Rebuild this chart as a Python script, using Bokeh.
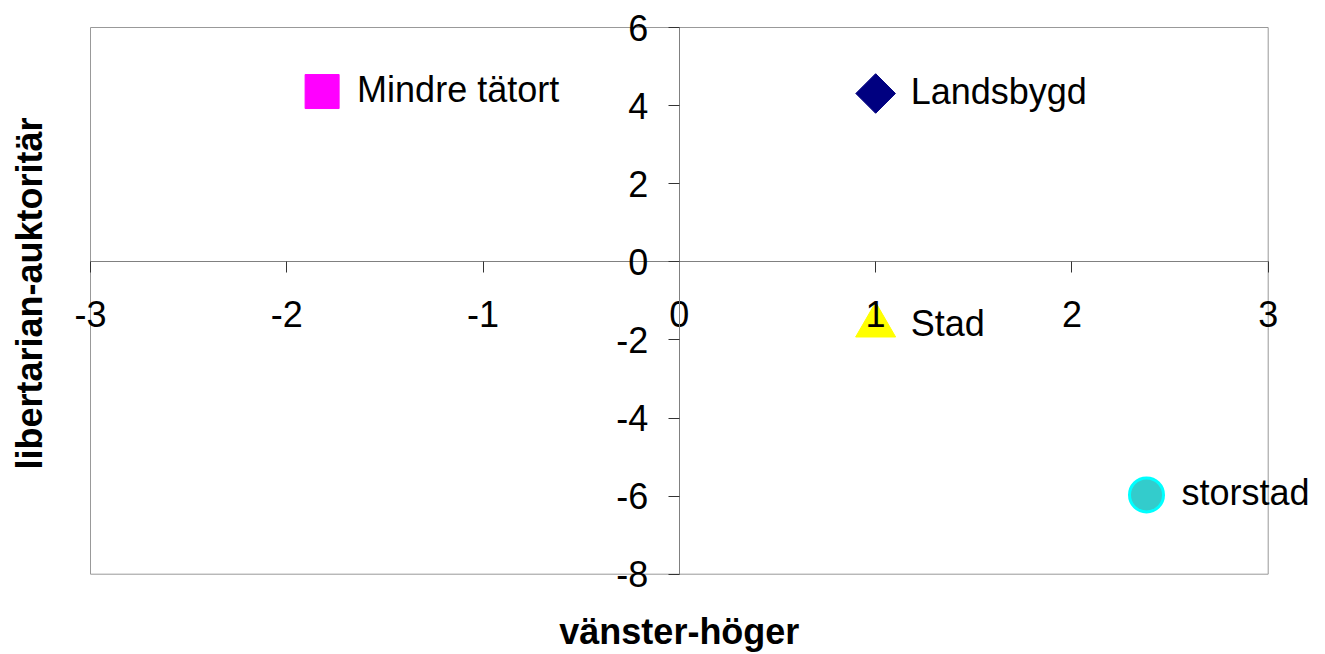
from bokeh.plotting import figure
from bokeh.models import FixedTicker, Label, BoxAnnotation, Range1d
from bokeh.core.properties import value
from bokeh.embed import file_html
from bokeh.resources import INLINE

# data
names = ["Mindre tätort", "Landsbygd", "Stad", "storstad"]
x_vals = [-1.82, 1.0, 1.0, 2.38]
y_vals = [4.36, 4.31, -1.63, -5.97]
x_ticks = [-3, -2, -1, 0, 1, 2, 3]
y_ticks = [-8, -6, -4, -2, 0, 2, 4, 6]
x_title = "vänster-höger"
y_title = "libertarian-auktoritär"

# styles per series
markers = ["square", "square", "triangle", "circle"]
angles = [0, 0.7853981634, 0, 0]
sizes = [34, 28, 40, 34]
fills = ["#FF00FF", "#000080", "#FFFF00", "#33CCCC"]
lines = ["#FF00FF", "#000080", "#FFFF00", "#00FFFF"]
lws = [1, 1, 1, 3]

FONT = "Liberation Sans"
W, H = 1325, 654

# plot-area limits and the surrounding room (frame fills the whole canvas)
xmin, xmax = x_ticks[0], x_ticks[-1]
ymin, ymax = y_ticks[0], y_ticks[-1]
pl, pr, pt, pb = 90.0, 1267.7, 27.0, 573.7
sx = (pr - pl) / (xmax - xmin)
sy = (pb - pt) / (ymax - ymin)

p = figure(width=W, height=H, output_backend="svg", toolbar_location=None,
           x_range=Range1d(xmin - pl / sx, xmax + (W - pr) / sx),
           y_range=Range1d(ymin - (H - pb) / sy, ymax + pt / sy),
           min_border=0)
p.grid.visible = False
p.outline_line_color = None
p.background_fill_color = "white"
p.border_fill_color = "white"

p.add_layout(BoxAnnotation(left=xmin, right=xmax, bottom=ymin, top=ymax,
                           fill_alpha=0, line_color="#999999", line_alpha=1.0,
                           line_width=1, level="underlay"))

for ax, ticks in ((p.xaxis, x_ticks), (p.yaxis, y_ticks)):
    ax.fixed_location = 0
    ax.bounds = (ticks[0], ticks[-1])
    ax.ticker = FixedTicker(ticks=ticks)
    ax.major_label_overrides = {t: str(t) for t in ticks}
    ax.minor_tick_line_color = None
    ax.axis_line_color = "#808080"
    ax.major_tick_line_color = "#333333"
    ax.major_tick_in = 0
    ax.major_tick_out = 11
    ax.major_label_text_font = FONT
    ax.major_label_text_font_size = "36px"
    ax.major_label_text_color = "black"

p.xaxis.major_label_standoff = 28
p.yaxis.major_label_standoff = 20

for i in range(len(names)):
    p.scatter([x_vals[i]], [y_vals[i]], marker=markers[i], size=sizes[i], angle=angles[i],
              fill_color=fills[i], line_color=lines[i], line_width=lws[i])

p.text(x=x_vals, y=y_vals, text=names, x_offset=35, y_offset=-2, text_baseline="middle",
       text_align="left", text_font=value(FONT), text_font_size="36px", text_color="black")

p.add_layout(Label(x=0, y=ymin - (630.7 - pb) / sy, text=x_title, text_align="center",
                   text_baseline="middle", text_font=FONT, text_font_size="36px",
                   text_font_style="bold", text_color="black"))
p.add_layout(Label(x=xmin - (pl - 29) / sx, y=ymax - (293 - pt) / sy, text=y_title,
                   angle=1.5707963268, text_align="center", text_baseline="middle",
                   text_font=FONT, text_font_size="36px", text_font_style="bold",
                   text_color="black"))

open("out.html", "w").write(file_html(p, INLINE))
